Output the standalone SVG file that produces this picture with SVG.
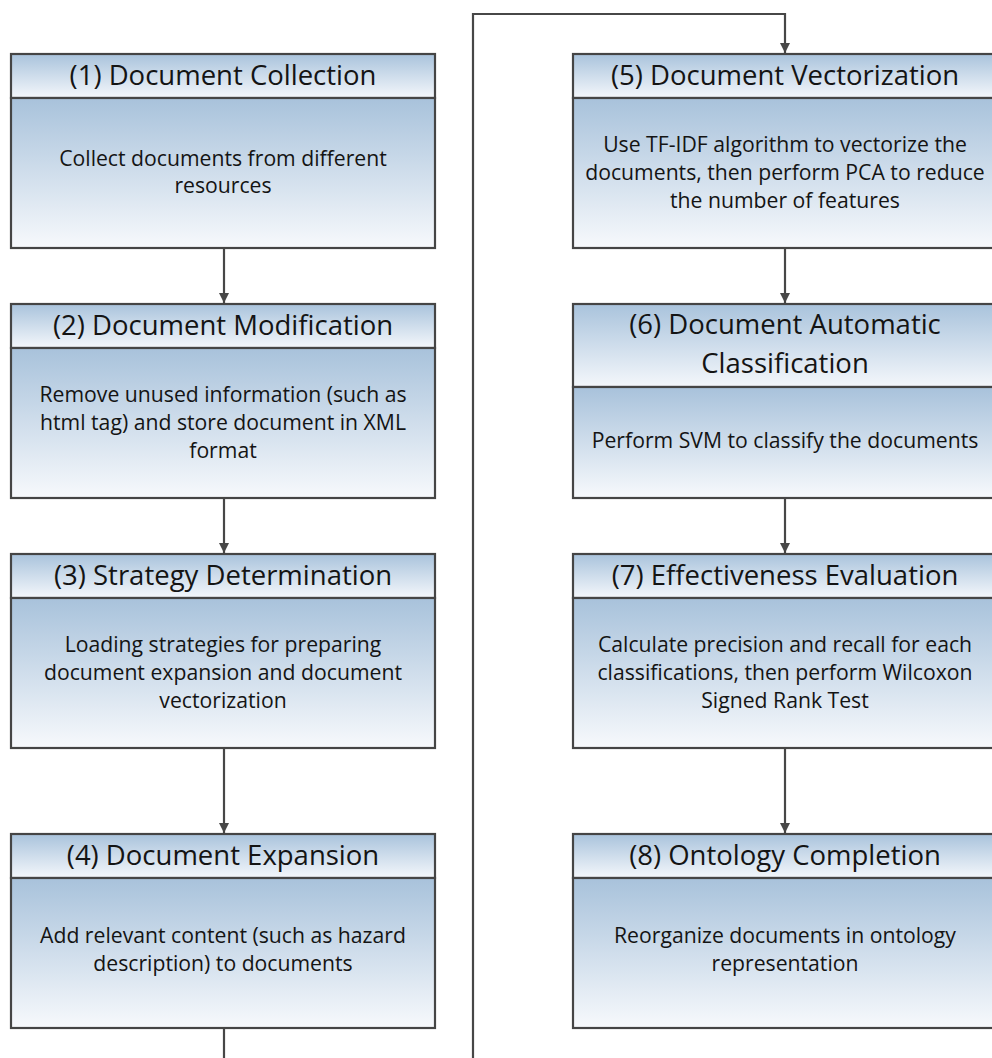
<svg xmlns="http://www.w3.org/2000/svg" width="992" height="1058" viewBox="0 0 992 1058">
<style>
.box{stroke:#454545;stroke-width:2.2}
.hd{font-family:"Open Sans",sans-serif;font-size:27.5px;fill:#141414;text-anchor:middle}
.bd{font-family:"Open Sans",sans-serif;font-size:21.2px;fill:#141414;text-anchor:middle}
.cn{fill:none;stroke:#474747;stroke-width:2.2}
</style>
<defs>
<linearGradient id="gh" x1="0" y1="0" x2="0" y2="1">
<stop offset="0" stop-color="#a9c3dc"/>
<stop offset="1" stop-color="#f4f7fb"/>
</linearGradient>
<linearGradient id="gb" x1="0" y1="0" x2="0" y2="1">
<stop offset="0" stop-color="#a8c2db"/>
<stop offset="1" stop-color="#f7f9fc"/>
</linearGradient>
<marker id="ar" viewBox="0 0 10 10" refX="10" refY="5" markerWidth="10" markerHeight="10" markerUnits="userSpaceOnUse" orient="auto">
<path d="M0,0 L10,5 L0,10 z" fill="#474747"/>
</marker>
</defs>
<g id="connectors">
<path class="cn" d="M224,248 V303" marker-end="url(#ar)"/>
<path class="cn" d="M224,498 V553" marker-end="url(#ar)"/>
<path class="cn" d="M224,748 V833" marker-end="url(#ar)"/>
<path class="cn" d="M224,1028 V1070 H473 V14 H785 V53" marker-end="url(#ar)"/>
<path class="cn" d="M785,248 V303" marker-end="url(#ar)"/>
<path class="cn" d="M785,498 V553" marker-end="url(#ar)"/>
<path class="cn" d="M785,748 V833" marker-end="url(#ar)"/>
</g>
<g id="n1">
<rect class="box" x="11" y="54" width="424" height="44" fill="url(#gh)"/>
<rect class="box" x="11" y="98" width="424" height="150" fill="url(#gb)"/>
<text class="hd" x="223" y="85">(1) Document Collection</text>
<text class="bd" x="223" y="166">Collect documents from different</text>
<text class="bd" x="223" y="193">resources</text>
</g>
<g id="n2">
<rect class="box" x="11" y="304" width="424" height="44" fill="url(#gh)"/>
<rect class="box" x="11" y="348" width="424" height="150" fill="url(#gb)"/>
<text class="hd" x="223" y="335">(2) Document Modification</text>
<text class="bd" x="223" y="402">Remove unused information (such as</text>
<text class="bd" x="223" y="430">html tag) and store document in XML</text>
<text class="bd" x="223" y="458">format</text>
</g>
<g id="n3">
<rect class="box" x="11" y="554" width="424" height="44" fill="url(#gh)"/>
<rect class="box" x="11" y="598" width="424" height="150" fill="url(#gb)"/>
<text class="hd" x="223" y="585">(3) Strategy Determination</text>
<text class="bd" x="223" y="652">Loading strategies for preparing</text>
<text class="bd" x="223" y="680">document expansion and document</text>
<text class="bd" x="223" y="708">vectorization</text>
</g>
<g id="n4">
<rect class="box" x="11" y="834" width="424" height="44" fill="url(#gh)"/>
<rect class="box" x="11" y="878" width="424" height="150" fill="url(#gb)"/>
<text class="hd" x="223" y="865">(4) Document Expansion</text>
<text class="bd" x="223" y="943">Add relevant content (such as hazard</text>
<text class="bd" x="223" y="971">description) to documents</text>
</g>
<g id="n5">
<rect class="box" x="573" y="54" width="424" height="44" fill="url(#gh)"/>
<rect class="box" x="573" y="98" width="424" height="150" fill="url(#gb)"/>
<text class="hd" x="785" y="85">(5) Document Vectorization</text>
<text class="bd" x="785" y="152">Use TF-IDF algorithm to vectorize the</text>
<text class="bd" x="785" y="180">documents, then perform PCA to reduce</text>
<text class="bd" x="785" y="208">the number of features</text>
</g>
<g id="n6">
<rect class="box" x="573" y="304" width="424" height="83" fill="url(#gh)"/>
<rect class="box" x="573" y="387" width="424" height="111" fill="url(#gb)"/>
<text class="hd" x="785" y="334">(6) Document Automatic</text>
<text class="hd" x="785" y="373">Classification</text>
<text class="bd" x="785" y="448">Perform SVM to classify the documents</text>
</g>
<g id="n7">
<rect class="box" x="573" y="554" width="424" height="44" fill="url(#gh)"/>
<rect class="box" x="573" y="598" width="424" height="150" fill="url(#gb)"/>
<text class="hd" x="785" y="585">(7) Effectiveness Evaluation</text>
<text class="bd" x="785" y="652">Calculate precision and recall for each</text>
<text class="bd" x="785" y="680">classifications, then perform Wilcoxon</text>
<text class="bd" x="785" y="708">Signed Rank Test</text>
</g>
<g id="n8">
<rect class="box" x="573" y="834" width="424" height="44" fill="url(#gh)"/>
<rect class="box" x="573" y="878" width="424" height="150" fill="url(#gb)"/>
<text class="hd" x="785" y="865">(8) Ontology Completion</text>
<text class="bd" x="785" y="943">Reorganize documents in ontology</text>
<text class="bd" x="785" y="971">representation</text>
</g>
</svg>
